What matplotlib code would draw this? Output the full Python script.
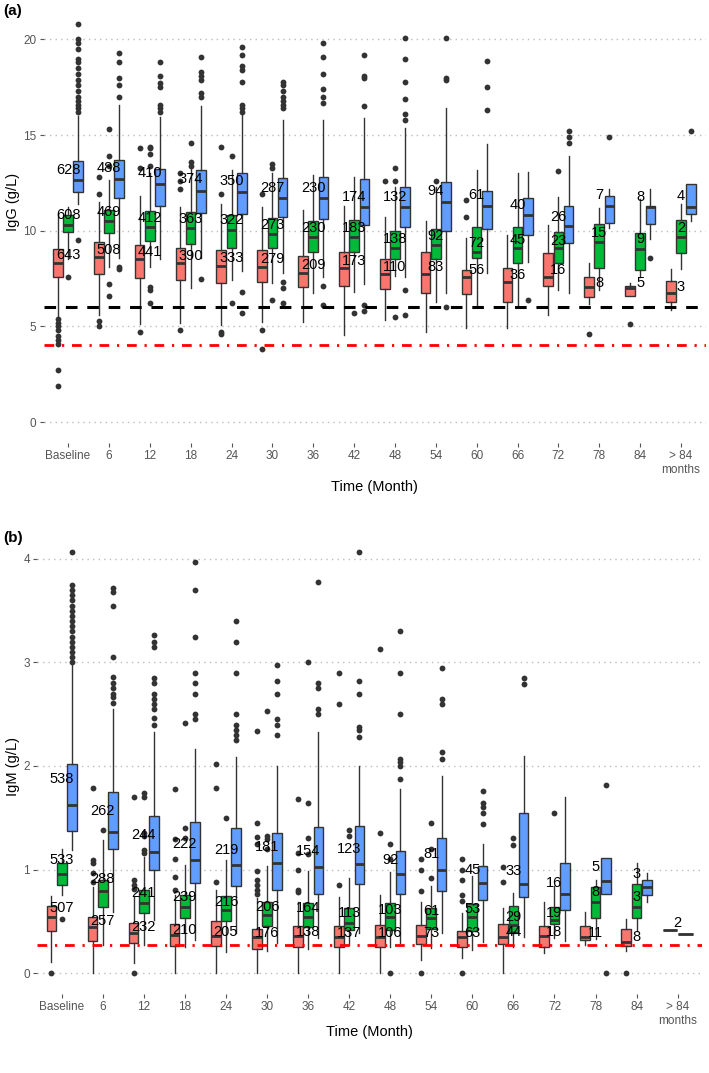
import matplotlib
matplotlib.use("Agg")
import matplotlib.pyplot as plt
import numpy as np

plt.rcParams['font.family'] = ['Liberation Sans', 'DejaVu Sans']

months = ['Baseline', '6', '12', '18', '24', '30', '36', '42', '48', '54',
          '60', '66', '72', '78', '84', '> 84\nmonths']

# ---- IgG (panel a): (whisker low, q1, median, q3, whisker high)
igg_red = [(5.5, 7.6, 8.33, 9.04, 10.9), (5.6, 7.74, 8.64, 9.39, 11.5),
           (5.1, 7.54, 8.54, 9.25, 11.8), (5.16, 7.42, 8.29, 9.08, 11.25),
           (5.07, 7.28, 8.15, 8.99, 11.4), (5.24, 7.33, 8.12, 8.99, 11.25),
           (5.24, 7.04, 7.8, 8.69, 11.1), (4.55, 7.1, 8.03, 8.9, 11.3),
           (5.33, 6.93, 7.74, 8.5, 10.7), (4.72, 6.76, 7.72, 8.9, 10.5),
           (4.9, 6.69, 7.6, 7.94, 9.6), (4.9, 6.29, 7.32, 8.03, 9.77),
           (5.6, 7.13, 7.6, 8.82, 10.3), (6.17, 6.55, 7.04, 7.6, 8.33),
           (6.59, 6.59, 6.99, 7.13, 7.25), (5.85, 6.25, 6.72, 7.37, 7.98)]
igg_green = [(8.5, 9.91, 10.3, 10.82, 11.25), (8.1, 9.86, 10.52, 11.08, 12.65),
             (8.1, 9.46, 10.2, 11.03, 13.0), (7.0, 9.29, 10.12, 10.99, 13.35),
             (7.4, 9.11, 10.03, 10.82, 13.17), (7.25, 9.11, 9.81, 10.68, 13.0),
             (6.72, 8.87, 9.65, 10.5, 12.9), (6.8, 8.9, 9.69, 10.56, 12.8),
             (7.63, 8.5, 9.11, 9.98, 12.3), (6.29, 8.5, 9.27, 10.1, 12.3),
             (6.03, 8.6, 8.9, 10.2, 13.17), (6.03, 8.33, 9.09, 10.21, 13.0),
             (6.9, 8.3, 9.08, 9.91, 11.78), (6.9, 8.07, 9.42, 10.35, 11.17),
             (7.6, 7.94, 9.04, 9.86, 11.65), (7.98, 8.82, 9.69, 10.56, 11.4)]
igg_blue = [(11.4, 12.0, 12.63, 13.64, 16.0), (8.6, 11.69, 12.7, 13.69, 16.57),
            (8.5, 11.29, 12.44, 13.22, 15.96), (8.6, 10.94, 12.09, 13.2, 16.5),
            (7.9, 10.9, 12.0, 13.03, 16.1), (7.77, 10.7, 11.69, 12.77, 15.78),
            (7.6, 10.6, 11.69, 12.82, 15.78), (7.2, 10.3, 11.22, 12.68, 15.87),
            (7.6, 10.2, 11.22, 12.3, 15.38), (6.72, 9.98, 11.5, 12.56, 16.4),
            (7.77, 10.1, 11.3, 12.09, 14.56), (8.38, 9.77, 10.82, 11.72, 13.08),
            (6.72, 9.37, 10.24, 11.29, 13.9), (10.16, 10.42, 11.29, 11.81, 12.16),
            (9.55, 10.35, 11.22, 11.3, 12.18), (10.52, 10.89, 11.25, 12.44, 12.44)]

igg_red_out = [[5.4, 5.2, 5.0, 4.8, 4.5, 4.3, 4.1, 2.7, 1.9], [12.8, 11.9, 5.3, 5.0],
               [14.3, 13.3, 4.7], [13.0, 12.6, 12.2, 4.8], [14.4, 11.9, 4.7, 4.6],
               [11.9, 4.8, 3.8], [], [], [12.6], [], [11.6, 10.7], [], [], [4.6], [5.1], []]
igg_green_out = [[7.6], [15.3, 13.9, 13.4, 7.2, 6.6], [14.4, 14.3, 14.0, 13.4, 7.07, 6.9, 6.2],
                 [14.6, 13.6, 13.4], [13.9, 6.2], [13.5, 13.3, 6.4], [], [5.7],
                 [13.3, 12.6, 5.5], [12.6], [], [], [13.1], [], [], []]
igg_blue_out = [[16.2, 16.4, 16.6, 16.8, 17.0, 17.3, 17.6, 17.9, 18.2, 18.5, 18.8, 19.0,
                 19.5, 19.8, 20.0, 20.8, 9.5],
                [17.0, 17.6, 18.0, 18.8, 19.3, 8.1, 8.0],
                [16.2, 16.4, 16.6, 17.5, 17.7, 18.1, 18.8],
                [17.0, 17.2, 17.9, 18.1, 18.3, 19.1, 7.5],
                [16.2, 16.4, 16.6, 17.8, 18.4, 18.6, 19.2, 19.6, 6.8, 5.7],
                [16.4, 16.6, 16.8, 17.0, 17.3, 17.6, 17.8, 7.3, 7.0, 6.2],
                [16.7, 17.0, 17.4, 18.2, 19.1, 19.8, 7.1, 6.1],
                [16.5, 18.0, 18.1, 19.2, 6.1, 5.8],
                [15.8, 16.1, 16.9, 17.8, 19.0, 20.1, 6.9, 5.6],
                [17.9, 18.0, 20.1, 6.0], [16.3, 17.5, 18.9], [6.4],
                [14.6, 14.9, 15.2], [14.9], [8.6], [15.2]]

igg_red_n = [643, 508, 441, 390, 333, 279, 209, 173, 110, 83, 56, 36, 16, 8, 5, 3]
igg_green_n = [608, 469, 412, 363, 322, 273, 230, 183, 138, 92, 72, 45, 23, 15, 9, 2]
igg_blue_n = [628, 488, 410, 374, 350, 287, 230, 174, 132, 94, 61, 40, 26, 7, 8, 4]
igg_red_ly = [8.73, 9.0, 8.9, 8.68, 8.55, 8.5, 8.2, 8.4, 8.1, 8.1, 7.94, 7.67, 7.94, 7.28, 7.28, 7.07]
igg_green_ly = [10.82, 11.0, 10.64, 10.6, 10.56, 10.3, 10.15, 10.16, 9.55, 9.72, 9.34, 9.5, 9.48,
                9.86, 9.55, 10.12]
igg_blue_ly = [13.2, 13.3, 13.0, 12.68, 12.6, 12.25, 12.26, 11.74, 11.74, 12.1, 11.86, 11.34,
               10.73, 11.85, 11.74, 11.81]

# ---- IgM (panel b)
igm_red = [(0.11, 0.409, 0.545, 0.648, 0.748), (0.0, 0.313, 0.44, 0.538, 0.835),
           (0.093, 0.293, 0.384, 0.48, 0.738), (0.0, 0.26, 0.367, 0.47, 0.754),
           (0.0, 0.26, 0.358, 0.5, 0.8), (0.0, 0.229, 0.35, 0.43, 0.72),
           (0.0, 0.255, 0.358, 0.454, 0.69), (0.0, 0.248, 0.35, 0.454, 0.738),
           (0.0, 0.248, 0.35, 0.464, 0.754), (0.126, 0.28, 0.358, 0.464, 0.69),
           (0.142, 0.255, 0.35, 0.41, 0.577), (0.0, 0.28, 0.35, 0.47, 0.625),
           (0.197, 0.248, 0.358, 0.454, 0.69), (0.27, 0.319, 0.35, 0.454, 0.593),
           (0.216, 0.26, 0.3, 0.43, 0.52), None]
igm_green = [(0.754, 0.851, 0.954, 1.06, 1.2), (0.27, 0.641, 0.796, 0.9, 1.286),
             (0.27, 0.577, 0.674, 0.8, 1.12), (0.248, 0.529, 0.635, 0.754, 1.044),
             (0.206, 0.5, 0.61, 0.74, 1.09), (0.216, 0.454, 0.56, 0.69, 1.035),
             (0.23, 0.44, 0.545, 0.68, 0.99), (0.27, 0.42, 0.486, 0.63, 0.915),
             (0.248, 0.42, 0.538, 0.68, 0.98), (0.24, 0.43, 0.528, 0.625, 0.84),
             (0.222, 0.41, 0.545, 0.667, 0.94), (0.248, 0.4, 0.464, 0.65, 0.77),
             (0.335, 0.474, 0.512, 0.635, 0.84), (0.326, 0.529, 0.69, 0.835, 0.9),
             (0.41, 0.529, 0.641, 0.857, 1.067), (0.42, 0.42, 0.42, 0.42, 0.42)]
igm_blue = [(1.19, 1.376, 1.62, 2.02, 2.99), (0.593, 1.196, 1.367, 1.744, 2.55),
            (0.51, 1.0, 1.167, 1.52, 2.33), (0.32, 0.873, 1.09, 1.46, 2.16),
            (0.384, 0.84, 1.044, 1.4, 2.09), (0.287, 0.8, 1.067, 1.35, 2.0),
            (0.335, 0.764, 1.028, 1.415, 2.33), (0.384, 0.86, 1.054, 1.42, 2.0),
            (0.287, 0.76, 0.957, 1.18, 1.776), (0.384, 0.796, 1.0, 1.3, 1.905),
            (0.303, 0.706, 0.873, 1.03, 1.247), (0.35, 0.738, 0.86, 1.544, 2.1),
            (0.313, 0.61, 0.764, 1.06, 1.7), (0.76, 0.76, 0.893, 1.11, 1.11),
            (0.69, 0.754, 0.835, 0.9, 0.964), (0.373, 0.373, 0.373, 0.373, 0.373)]

igm_red_out = [[0.0], [1.79, 1.09, 1.06, 0.97, 0.88], [1.7, 0.9, 0.85, 0.81, 0.0],
               [1.78, 1.29, 1.1, 0.925, 0.8], [2.02, 1.79, 0.88],
               [2.34, 1.45, 1.31, 1.25, 0.99, 0.9, 0.85, 0.8, 0.76],
               [1.68, 1.16, 1.0, 0.8, 0.78], [2.9, 2.6, 0.85], [3.13, 1.35],
               [1.1, 1.0, 0.79, 0.0], [1.1, 1.0, 0.9, 0.75, 0.7, 0.0], [1.02, 0.88],
               [], [], [0.0], []]
igm_green_out = [[0.52], [1.38], [1.74, 1.7, 1.35, 1.32, 1.19, 1.16], [2.42, 1.4, 1.3],
                 [1.5], [2.53, 1.32, 1.29, 1.2], [3.0, 1.64, 1.3, 1.15], [1.38, 1.32],
                 [1.25, 1.1, 0.0], [1.45, 1.2, 0.92], [], [1.3, 1.24], [1.55], [], [], []]
igm_blue_out = [[3.0, 3.05, 3.1, 3.15, 3.2, 3.25, 3.3, 3.35, 3.4, 3.45, 3.5, 3.55, 3.6,
                 3.65, 3.7, 3.75, 4.07],
                [2.61, 2.67, 2.7, 2.75, 2.8, 2.86, 3.05, 3.55, 3.68, 3.72],
                [2.4, 2.46, 2.55, 2.6, 2.65, 2.7, 2.8, 2.85, 3.15, 3.2, 3.27],
                [2.45, 2.5, 2.7, 2.8, 2.9, 3.25, 3.7, 3.97],
                [2.25, 2.3, 2.35, 2.4, 2.5, 2.9, 3.2, 3.4],
                [2.3, 2.4, 2.45, 2.7, 2.82, 2.98],
                [2.5, 2.55, 2.75, 2.8, 3.78],
                [2.28, 2.35, 2.38, 2.7, 2.82, 4.07],
                [1.87, 2.0, 2.04, 2.07, 2.5, 2.9, 3.3],
                [2.07, 2.14, 2.6, 2.65, 2.95],
                [1.44, 1.55, 1.6, 1.64, 1.76], [2.79, 2.85], [], [1.82, 0.0], [], []]

igm_red_n = [507, 257, 232, 210, 205, 176, 138, 137, 106, 73, 63, 44, 18, 11, 8, None]
igm_green_n = [533, 288, 241, 239, 216, 206, 164, 113, 103, 61, 53, 29, 19, 8, 3, 2]
igm_blue_n = [538, 262, 244, 222, 219, 181, 154, 123, 92, 81, 45, 33, 16, 5, 3, None]
igm_red_ly = [0.625, 0.5, 0.44, 0.42, 0.4, 0.39, 0.4, 0.39, 0.39, 0.39, 0.39, 0.4, 0.4, 0.39,
              0.345, None]
igm_green_ly = [1.09, 0.906, 0.77, 0.73, 0.69, 0.64, 0.625, 0.58, 0.61, 0.6, 0.615, 0.54,
                0.583, 0.786, 0.738, 0.48]
igm_blue_ly = [1.87, 1.57, 1.33, 1.25, 1.19, 1.215, 1.18, 1.2, 1.09, 1.15, 1.0, 0.99, 0.873,
               1.02, 0.957, None]

colors = ['#F8766D', '#00BA38', '#619CFF']
edge = '#333333'


def draw_panel(ax, groups, outs, ns, lys, ylim, yticks, ylabel):
    x = np.arange(1, len(months) + 1)
    for i in range(len(months)):
        present = [g for g in range(3) if groups[g][i] is not None]
        w = 0.75 / len(present)
        for j, g in enumerate(present):
            lo, q1, med, q3, hi = groups[g][i]
            st = dict(whislo=lo, q1=q1, med=med, q3=q3, whishi=hi, fliers=outs[g][i])
            ax.bxp([st], positions=[x[i] - 0.375 + w * (j + 0.5)], widths=w * 0.94,
                   patch_artist=True, showcaps=False, manage_ticks=False,
                   boxprops=dict(facecolor=colors[g], edgecolor=edge, lw=1.0),
                   medianprops=dict(color=edge, lw=2.0),
                   whiskerprops=dict(color=edge, lw=1.0),
                   flierprops=dict(marker='o', markerfacecolor=edge,
                                   markeredgecolor='none', markersize=4.2))
        for g in range(3):
            if ns[g][i] is not None:
                ax.text(x[i], lys[g][i], str(ns[g][i]), ha='center', va='center',
                        fontsize=10.5, color='black', zorder=5)
    ax.set_xlim(0.4, len(months) + 0.6)
    ax.set_ylim(*ylim)
    ax.set_xticks(x)
    ax.set_xticklabels(months)
    ax.set_yticks(yticks)
    ax.grid(axis='y', color='#BDBDBD', linestyle=(0, (1, 3)), lw=1.0)
    ax.set_axisbelow(True)
    for s in ax.spines.values():
        s.set_visible(False)
    ax.tick_params(axis='both', colors='#555555', labelsize=8.5, length=3, width=0.8, pad=2)
    ax.set_xlabel('Time (Month)', fontsize=10.5, va='center')
    ax.set_ylabel(ylabel, fontsize=10.5, va='center')


fig = plt.figure(figsize=(7.09, 10.73), dpi=100)

ax_a = fig.add_axes([0.0614, 0.5871, 0.9337, 0.4082])
draw_panel(ax_a, [igg_red, igg_green, igg_blue],
           [igg_red_out, igg_green_out, igg_blue_out],
           [igg_red_n, igg_green_n, igg_blue_n],
           [igg_red_ly, igg_green_ly, igg_blue_ly],
           (-1.1, 21.8), [0, 5, 10, 15, 20], 'IgG (g/L)')
ax_a.axhline(6, color='black', lw=2.2, dashes=(3.8, 3.2), zorder=4)
ax_a.axhline(4, color='#FF0000', lw=2.0, linestyle=(0, (3.5, 2.8, 0.8, 2.8)), zorder=4)
ax_a.xaxis.set_label_coords(0.5, -0.1005)
ax_a.yaxis.set_label_coords(-0.046, 0.55)

ax_b = fig.add_axes([0.0523, 0.0736, 0.9382, 0.4315])
draw_panel(ax_b, [igm_red, igm_green, igm_blue],
           [igm_red_out, igm_green_out, igm_blue_out],
           [igm_red_n, igm_green_n, igm_blue_n],
           [igm_red_ly, igm_green_ly, igm_blue_ly],
           (-0.203, 4.27), [0, 1, 2, 3, 4], 'IgM (g/L)')
ax_b.axhline(0.27, color='#FF0000', lw=2.0, linestyle=(0, (3.5, 2.8, 0.8, 2.8)), zorder=4)
ax_b.xaxis.set_label_coords(0.5, -0.082)
ax_b.yaxis.set_label_coords(-0.036, 0.492)

fig.text(0.004, 0.990, '(a)', fontsize=11, fontweight='bold', va='center')
fig.text(0.004, 0.499, '(b)', fontsize=11, fontweight='bold', va='center')

fig.savefig('out.png', dpi=100)
